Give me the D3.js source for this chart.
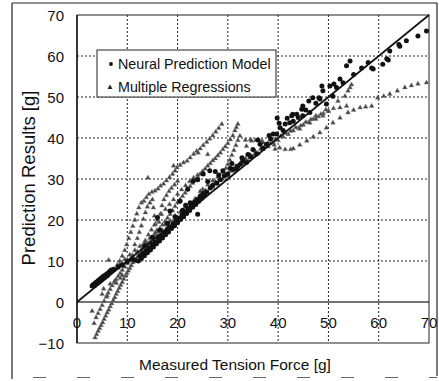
<!DOCTYPE html>
<html><head><meta charset="utf-8">
<script src="https://cdn.jsdelivr.net/npm/d3@7"></script>
<style>body{margin:0;background:#fff}svg{display:block}text{font-family:"Liberation Sans",Arial,sans-serif;fill:#111}</style>
</head><body>
<svg id="c" width="439" height="381"></svg>
<script>
const xTicks=[0,10,20,30,40,50,60,70];
const yTicks=[-10,0,10,20,30,40,50,60,70];
const seriesNames=["Neural Prediction Model","Multiple Regressions"];
const xTitle="Measured Tension Force [g]";
const yTitle="Prediction Results [g]";

// Neural Prediction Model (dots)
const neural=[
[3.0,3.9],[3.2,4.2],[3.4,4.4],[3.6,4.3],[3.7,4.7],[3.9,4.9],[4.1,4.8],[4.2,5.2],[4.4,5.4],[4.6,5.3],[4.7,5.7],[4.9,5.9],[5.1,5.8],[5.2,6.2],[5.4,6.4],[5.6,6.3],[5.8,6.7],[6.0,6.9],[6.2,7.0],[6.4,7.3],[6.6,7.5],[3.5,4.0],[4.0,4.5],[4.5,5.0],[5.0,5.5],[5.5,6.0],[6.0,6.4],[6.8,7.8],[7.3,8.0],
[8.2,8.6],[9.0,9.0],[10.0,9.8],[11.0,10.5],[11.6,10.2],
[12.2,10.0],[12.5,11.2],[12.8,10.6],[13.1,11.8],[13.4,11.3],[13.7,12.5],[14.0,12.0],[14.3,13.2],[14.6,12.7],[14.9,14.0],[15.2,13.4],[15.5,14.6],[15.8,14.2],[16.1,15.4],[16.4,14.9],[16.7,16.1],[17.0,15.6],[17.3,16.9],[17.6,16.4],[17.9,17.6],[18.2,17.1],[18.5,18.3],[18.8,17.9],[19.1,19.0],[19.4,18.6],[19.7,19.8],[20.0,19.3],[20.3,20.5],[20.6,20.1],[20.9,21.3],[21.2,20.8],[21.5,22.0],[21.8,21.6],[22.1,22.8],[22.4,22.3],[22.7,23.5],[23.0,23.1],[23.3,24.3],[23.6,23.8],[23.9,25.0],[24.2,24.6],[24.5,25.8],[24.8,25.3],[25.1,26.5],[25.4,26.1],
[13.5,13.8],[15.0,15.8],[16.5,17.5],[18.0,19.2],[19.5,20.8],[21.0,22.4],[22.5,24.2],[24.0,21.4],[16.0,20.6],[18.5,22.2],[20.5,24.6],
[22.0,27.5],[23.1,29.5],[24.0,29.8],[25.1,31.2],[26.4,32.0],[27.5,31.8],[29.0,32.0],[30.5,32.6],[32.0,33.2],[33.0,34.5],[34.0,36.0],
[25.8,26.8],[26.5,27.8],[27.0,28.5],[27.8,29.0],[28.5,29.8],[29.3,30.8],[30.0,31.2],[31.0,32.4],[31.7,32.4],[32.5,33.6],[33.7,34.0],[34.5,35.4],[35.7,36.1],[36.4,38.5],[37.0,37.5],[37.7,38.5],[38.5,39.8],[39.0,41.0],[39.7,41.0],[40.4,42.5],[41.0,41.8],[41.4,43.4],[42.3,43.7],[42.7,45.4],[43.0,44.1],[42.9,45.8],[44.0,45.0],[44.9,45.4],[44.9,47.8],[45.5,46.8],[46.3,46.2],[46.9,49.8],[47.5,48.5],[48.3,49.5],[48.9,51.5],[49.6,48.3],[50.3,52.7],[50.9,50.2],[51.6,52.3],[52.3,54.4],[52.9,53.5],[53.6,57.6],[54.3,58.8],[55.0,55.5],[56.6,57.1],[57.9,58.4],[58.9,56.8],[60.8,58.0],[61.9,59.0],[62.2,61.2],[64.2,62.4],[65.5,63.7],[67.8,64.9],[69.5,66.1],
[48.7,52.7],[51.1,53.2],[48.1,49.8],[46.1,49.0],[44.7,47.0],[43.7,45.8],[39.8,44.9],[58.6,57.1],[61.6,59.3],[64.0,62.8],
[28.2,31.0],[30.8,33.8],[32.8,35.2],[35.0,37.2],[36.0,39.5],[38.2,40.6],[40.2,43.6],[41.8,44.8],[26.0,29.4],[21.6,23.6]
];

// Multiple Regressions (triangles)
const regression=[
[3.6,-8.7],[3.9,-7.9],[4.2,-7.1],[4.5,-6.4],[4.8,-5.7],[5.1,-5.0],[5.4,-4.2],[5.7,-3.4],[6.0,-2.6],[6.3,-1.9],[6.6,-1.1],[6.9,-0.4],[7.2,0.4],[7.5,1.1],[7.8,1.9],[8.1,2.6],[8.4,3.4],[8.7,4.1],[9.0,4.8],[9.3,5.6],[9.6,6.3],[9.9,7.0],[10.2,7.6],[10.5,8.2],[10.8,8.9],[11.1,9.6],[11.5,10.3],[12.0,11.0],[12.5,11.8],[13.0,12.5],[13.5,13.2],[14.0,13.9],[14.5,14.7],[15.0,15.5],[15.5,16.3],[16.0,17.1],[16.5,18.0],[17.0,18.8],[17.5,19.6],[18.0,20.5],[18.5,21.4],[19.0,22.3],[19.5,23.3],[20.0,24.3],[20.5,25.0],[21.0,25.8],[21.5,26.6],[22.0,27.5],[22.5,28.2],[23.0,29.0],[23.5,29.7],[24.0,30.5],[24.5,31.2],[25.0,31.9],[25.5,32.5],[26.0,33.2],[26.5,33.8],[27.0,34.5],[27.5,35.0],[28.0,35.7],[28.5,36.4],[29.0,37.2],[29.5,37.9],[30.0,38.7],[30.5,39.6],[31.0,40.6],[31.4,41.8],[31.7,42.6],[32.0,43.4],
[3.4,-5.2],[3.8,-3.8],[4.2,-2.8],[4.6,-1.8],[5.0,-0.8],[5.4,0.2],[5.8,1.2],[6.2,2.2],[6.6,3.1],[7.0,4.0],[7.4,4.8],[7.8,5.5],[8.2,6.3],[8.6,7.0],[9.0,7.8],[9.5,8.6],[10.0,9.4],[10.5,10.1],[11.0,10.8],
[8.0,9.0],[8.5,10.0],[9.0,11.2],[9.5,12.6],[9.9,14.0],[10.3,15.5],[10.7,17.0],[11.1,18.5],[11.5,20.0],[11.9,21.5],[12.3,23.0],[12.8,24.2],[13.3,24.6],[13.8,25.5],[14.3,26.3],[14.9,26.8],[15.5,27.1],[16.1,27.6],[16.6,28.3],[17.2,28.8],[17.8,29.6],[18.4,30.4],[19.0,31.2],[19.5,32.0],[19.9,32.8],[20.5,33.4],[21.2,34.0],[21.9,34.4],[22.5,35.2],[23.2,36.1],[23.8,36.8],[24.5,37.4],[25.1,38.2],[25.8,39.0],[26.4,39.8],[27.0,40.6],[27.6,41.5],[28.2,42.4],[28.8,43.4],
[11.5,14.0],[12.0,15.5],[12.4,17.0],[12.8,18.6],[13.2,20.2],[13.6,21.8],[14.0,23.2],[14.5,24.2],[15.0,25.0],[15.2,23.0],[15.4,21.0],[15.6,19.0],[15.9,17.5],[16.3,19.5],[16.6,21.5],[16.9,23.5],[17.3,25.0],[17.8,26.0],[18.3,27.0],[18.8,27.8],[19.4,28.6],[20.0,29.5],
[13.0,13.8],[13.6,15.0],[14.2,16.4],[14.8,17.6],[15.4,18.8],[16.0,20.0],[16.8,21.4],[17.6,22.6],[18.4,23.8],[19.2,25.0],[20.0,26.3],[20.8,27.4],[21.6,28.4],[22.4,29.4],[23.2,30.3],[24.0,31.0],
[25.0,27.5],[26.0,28.6],[27.0,29.6],[28.0,30.5],[29.0,31.6],[29.6,32.6],[30.0,33.6],[30.4,34.6],[30.8,35.8],[31.2,37.0],[31.6,38.2],[32.0,39.4],[32.4,40.5],
[8.0,8.3],[9.0,9.4],[10.0,10.3],[11.0,11.4],[12.0,12.3],[13.0,13.4],[14.0,14.3],[15.0,15.5],[16.0,16.3],[17.0,17.5],[18.0,18.4],[19.0,19.6],[20.0,20.5],[21.0,21.7],[22.0,22.6],[23.0,23.8],[24.0,24.6],[25.0,25.9],[26.0,26.7],[27.0,28.0],[28.0,28.8],[29.0,30.0],[30.0,30.7],[31.0,31.9],[32.0,32.6],[33.0,33.8],[34.0,34.5],[35.0,35.6],[36.0,36.2],[37.0,37.3],[38.0,37.9],[39.0,38.9],[40.0,39.4],[41.0,40.3],[42.0,40.9],[43.0,41.8],[44.0,42.4],[45.0,43.2],[46.0,43.8],[47.0,44.6],[48.0,45.2],[49.0,46.0],[50.0,46.6],
[8.5,9.2],[9.5,10.4],[10.5,11.5],[11.5,12.6],[12.5,13.6],[13.5,14.7],[14.5,15.6],[15.5,16.8],[16.5,17.7],[17.5,18.9],[18.5,19.8],[19.5,21.0],[20.5,21.9],[21.5,23.1],[22.5,24.0],[23.5,25.2],[24.5,26.1],[25.5,27.2],[26.5,28.1],[27.5,29.3],[28.5,30.1],[29.5,31.2],[30.5,32.0],[31.5,33.1],[32.5,33.9],[33.5,35.0],[34.5,35.8],[35.5,36.7],[36.5,37.3],[37.5,38.3],[38.5,38.8],[39.5,39.7],[40.5,40.4],[41.5,41.2],[42.5,41.7],[43.5,42.6],[44.5,43.0],[45.5,43.9],[46.5,44.5],[47.5,45.4],[48.5,45.8],[49.5,46.9],
[33.5,39.5],[34.5,39.6],[35.5,39.4],[36.8,39.3],[38.0,38.8],[39.2,38.3],[40.3,37.6],[41.4,37.2],[42.5,37.2],[43.0,37.4],[44.3,38.3],[45.7,39.3],[47.0,40.3],[48.3,41.3],[49.6,42.5],[50.9,43.7],[52.3,44.9],[53.9,46.2],[55.0,46.8],[56.3,47.4],[57.4,47.6],[58.6,47.8],[59.8,49.8],[61.0,50.2],[62.2,50.7],[63.7,51.5],[65.2,52.3],[66.5,52.8],[67.8,53.2],[69.5,53.5],
[44.3,42.2],[46.3,43.7],[47.5,44.6],[48.9,45.4],[50.0,46.5],[51.0,47.2],[51.9,49.0],[52.3,47.4],[53.3,50.2],[53.6,47.8],[53.9,51.5],[54.3,52.3],[54.6,53.0],
[6.3,10.2],[14.1,30.3],[19.2,33.2],[24.1,36.4],[3.0,-2.2],[5.0,1.9],[6.0,1.5],[5.3,3.2],[6.6,4.4],[7.5,5.1],[8.6,5.8],[7.8,4.6],[9.0,6.5],[33.7,38.0],[34.7,39.3],[37.0,38.9],[39.4,37.3],[26.0,36.0],[24.5,27.0]
];
const identity=[[0,0],[70,70]];

const svg=d3.select("#c");
svg.append("rect").attr("width",439).attr("height",381).attr("fill","#fff");
const x=d3.scaleLinear().domain([0,70]).range([77,429]);
const y=d3.scaleLinear().domain([-10,70]).range([343,15]);

// outer frame
const fr=svg.append("g").attr("stroke","#222").attr("fill","none");
fr.append("line").attr("x1",12).attr("x2",437).attr("y1",3).attr("y2",3).attr("stroke-width",1.2);
fr.append("line").attr("x1",12).attr("x2",12).attr("y1",3).attr("y2",379).attr("stroke-width",1.2);
fr.append("line").attr("x1",437).attr("x2",437).attr("y1",3).attr("y2",376).attr("stroke-width",1.2);
fr.append("line").attr("x1",33).attr("x2",437).attr("y1",377.5).attr("y2",377.5).attr("stroke-width",1.2).attr("stroke","#666").attr("stroke-dasharray","13,31");

// grid
const g=svg.append("g");
g.selectAll(".vg").data(xTicks.filter(d=>d>0&&d<70)).join("line")
 .attr("x1",d=>x(d)).attr("x2",d=>x(d)).attr("y1",y(70)).attr("y2",y(-10))
 .attr("stroke","#222").attr("stroke-width",1).attr("stroke-dasharray","2,2");
g.selectAll(".hg").data(yTicks.filter(d=>d>-10&&d<70&&d!==0)).join("line")
 .attr("x1",x(0)).attr("x2",x(70)).attr("y1",d=>y(d)).attr("y2",d=>y(d))
 .attr("stroke","#222").attr("stroke-width",1).attr("stroke-dasharray","2,2");
g.append("line").attr("x1",x(0)).attr("x2",x(70)).attr("y1",y(0)).attr("y2",y(0)).attr("stroke","#444").attr("stroke-width",1.3);
g.append("rect").attr("x",x(0)).attr("y",y(70)).attr("width",x(70)-x(0)).attr("height",y(-10)-y(70))
 .attr("fill","none").attr("stroke","#222").attr("stroke-width",1);
g.append("line").attr("x1",x(0)).attr("x2",x(0)).attr("y1",y(70)).attr("y2",y(-10)).attr("stroke","#222").attr("stroke-width",1.6);

// points
const tri=d3.symbol().type(d3.symbolTriangle).size(10);
svg.append("g").selectAll("path").data(regression).join("path")
 .attr("d",tri).attr("transform",d=>`translate(${x(d[0])},${y(d[1])})`)
 .attr("fill","#444").attr("stroke","#888").attr("stroke-width",0.4);
svg.append("g").selectAll("circle").data(neural).join("circle")
 .attr("cx",d=>x(d[0])).attr("cy",d=>y(d[1])).attr("r",2.5).attr("fill","#111");
svg.append("path").datum(identity).attr("d",d3.line().x(d=>x(d[0])).y(d=>y(d[1])))
 .attr("stroke","#111").attr("stroke-width",1.7).attr("fill","none");

// tick labels
svg.append("g").selectAll("text").data(xTicks).join("text")
 .attr("x",d=>x(d)).attr("y",y(0)+26).attr("text-anchor","middle").attr("font-size",15).text(d=>d);
svg.append("g").selectAll("text").data(yTicks).join("text")
 .attr("x",64).attr("y",d=>y(d)+5.5).attr("text-anchor","end").attr("font-size",15).text(d=>d===-10?"\u221210":d);

// titles
svg.append("text").attr("x",235).attr("y",370).attr("text-anchor","middle").attr("font-size",15.5).text(xTitle);
svg.append("text").attr("transform","translate(35,178) rotate(-90)").attr("text-anchor","middle").attr("font-size",18.5).text(yTitle);

// legend
const lg=svg.append("g");
lg.append("rect").attr("x",97).attr("y",50).attr("width",179).attr("height",47).attr("fill","#fff").attr("stroke","#222").attr("stroke-width",1);
lg.append("circle").attr("cx",111).attr("cy",64).attr("r",1.9).attr("fill","#111");
lg.append("path").attr("d",d3.symbol().type(d3.symbolTriangle).size(11)).attr("transform","translate(110,87.5)").attr("fill","#222");
lg.append("text").attr("x",118).attr("y",69).attr("font-size",14.3).text(seriesNames[0]);
lg.append("text").attr("x",118).attr("y",92).attr("font-size",14.3).text(seriesNames[1]);
</script>
</body></html>
